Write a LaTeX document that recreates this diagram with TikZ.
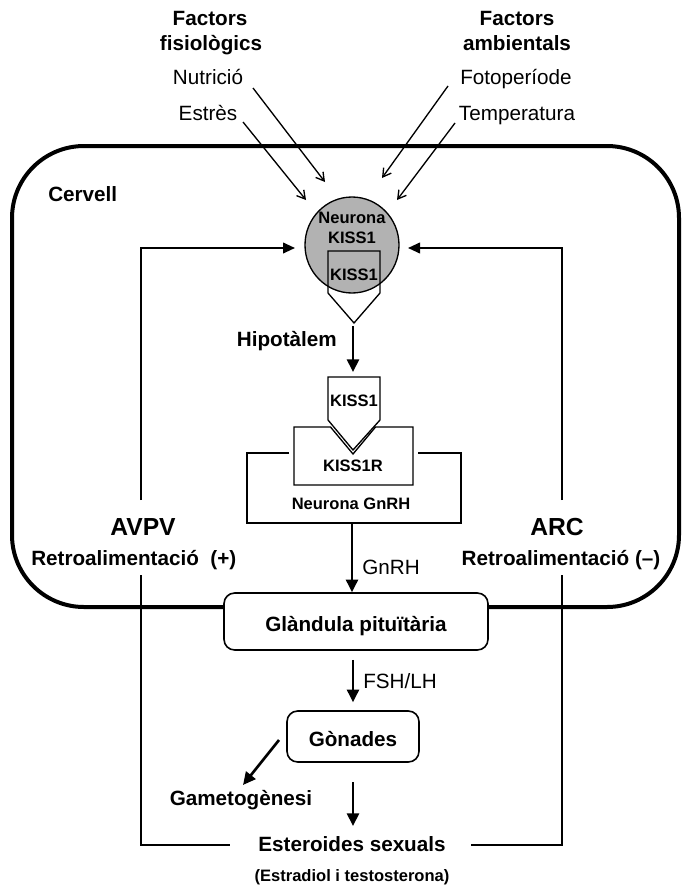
\documentclass[tikz,border=0pt]{standalone}
\usepackage{fontspec}
\setmainfont{Liberation Sans}
\usetikzlibrary{arrows.meta,shapes.geometric}
\begin{document}
\begin{tikzpicture}[x=0.75pt,y=-0.75pt,
  big/.style={font=\fontsize{15.5}{18}\selectfont\bfseries, inner sep=0pt, text height=11.1pt, text depth=0pt},
  reg/.style={font=\fontsize{15.5}{18}\selectfont, inner sep=0pt, text height=11.1pt, text depth=0pt},
  small/.style={font=\fontsize{12.4}{14}\selectfont\bfseries, inner sep=0pt, text height=8.9pt, text depth=0pt},
  huge/.style={font=\fontsize{18.5}{21}\selectfont\bfseries, inner sep=0pt, text height=13.2pt, text depth=0pt},
  thinarrow/.style={line width=1pt,-{Straight Barb[length=6pt,width=7pt]}},
  mainarrow/.style={line width=2pt,-{Triangle[length=9.5pt,width=9pt]}},
  fbarrow/.style={line width=1.4pt,-{Triangle[length=9pt,width=8pt]}},
  fbline/.style={line width=1.3pt},
  thinline/.style={line width=1pt},
  roundbox/.style={draw,line width=1.2pt,rounded corners=8pt,fill=white,inner sep=0pt},
]
\useasboundingbox (0,0) rectangle (684,885);

% brain outline
\draw[line width=3pt, rounded corners=54pt] (12,146) rectangle (679,607);
\node[big, anchor=west] (cervell) at (48,194) {Cervell};

% top factors
\node[big] (f1a) at (210,18) {Factors};
\node[big] (f1b) at (211,43) {fisiològics};
\node[reg] (nut) at (208,77) {Nutrició};
\node[reg] (est) at (208,113) {Estrès};
\node[big] (f2a) at (517,18) {Factors};
\node[big] (f2b) at (517,43) {ambientals};
\node[reg] (foto) at (516,77) {Fotoperíode};
\node[reg] (temp) at (517,113) {Temperatura};

\coordinate (nutS) at (253,88);
\coordinate (nutE) at (325,182);
\coordinate (estS) at (243,122);
\coordinate (estE) at (306,200);
\coordinate (fotoS) at (448,86);
\coordinate (fotoE) at (382,178);
\coordinate (tempS) at (455,123);
\coordinate (tempE) at (397,200);
\draw[thinarrow] (nutS) -- (nutE);
\draw[thinarrow] (estS) -- (estE);
\draw[thinarrow] (fotoS) -- (fotoE);
\draw[thinarrow] (tempS) -- (tempE);

% KISS1 neuron
\node[ellipse, draw, line width=1pt, fill=gray!60, minimum width=70.5pt, minimum height=72pt, inner sep=0pt] (neu) at (352,245) {};
\node[small] (neuA) at (352,218) {Neurona};
\node[small] (neuB) at (352,238) {KISS1};
\draw[thinline] (328,251) -- (380,251) -- (380,293) -- (354,323) -- (328,293) -- cycle;
\node[small] (kiss1a) at (354,275) {KISS1};
\coordinate (k1tip) at (353,326);

% hypothalamus arrow
\node[big, anchor=east] (hipo) at (337,339) {Hipotàlem};
\coordinate (k2top) at (353,372);
\draw[mainarrow] (k1tip) -- (k2top);

% KISS1 ligand + KISS1R + GnRH neuron
\draw[thinline] (328,377) -- (380,377) -- (380,420) -- (353,450) -- (328,420) -- cycle;
\node[small] (kiss1b) at (354,401) {KISS1};
\draw[thinline] (294,427) -- (330.5,427) -- (353,454) -- (375.5,427) -- (413,427) -- (413,485) -- (294,485) -- cycle;
\node[small] (kiss1r) at (353,466) {KISS1R};
\draw[thinline] (289,453) -- (247,453) -- (247,523) -- (461,523) -- (461,453) -- (418,453);
\node[small] (gnrhn) at (351,504) {Neurona GnRH};

% feedback loops
\coordinate (fbLtop) at (141,500);
\coordinate (fbRtop) at (562,500);
\coordinate (neuLin) at (295,248);
\coordinate (neuRin) at (408,248);
\draw[fbarrow] (fbLtop) |- (neuLin);
\draw[fbarrow] (fbRtop) |- (neuRin);
\node[huge] (avpv) at (143,527) {AVPV};
\node[huge] (arc) at (557,527) {ARC};
\node[big, anchor=west] (retroL) at (31,558) {Retroalimentació\ \ (+)};
\node[big] (retroR) at (561,558) {Retroalimentació (–)};
\coordinate (fbLbot) at (141,575);
\coordinate (fbRbot) at (562,575);
\coordinate (esL) at (230,845);
\coordinate (esR) at (471,845);
\draw[fbline] (fbLbot) |- (esL);
\draw[fbline] (fbRbot) |- (esR);

% GnRH arrow and pituitary
\coordinate (gnrhS) at (352,523);
\node[roundbox, minimum width=198pt, minimum height=42.75pt] (pit) at (356,621.5) {};
\node[big] (pitT) at (356,624) {Glàndula pituïtària};
\draw[mainarrow] (gnrhS) -- (pit.north -| gnrhS);
\node[reg, anchor=west] (gnrhL) at (362,567) {GnRH};

% FSH/LH and gonads
\node[roundbox, minimum width=99pt, minimum height=38.25pt] (gon) at (353,736.5) {};
\node[big] (gonT) at (353,739) {Gònades};
\draw[mainarrow] ([yshift=-6.75pt]pit.south -| gon.north) -- ([yshift=6pt]gon.north);
\node[reg, anchor=west] (fsh) at (363,681) {FSH/LH};

% outputs
\coordinate (gonDS) at (279,740);
\coordinate (gameE) at (243,785);
\draw[mainarrow] (gonDS) -- (gameE);
\node[big] (game) at (241,798) {Gametogènesi};
\coordinate (gonOut) at (353,782);
\coordinate (estIn) at (353,826);
\draw[mainarrow] (gonOut) -- (estIn);
\node[big] (ester) at (352,844) {Esteroides sexuals};
\node[small] (estr) at (352,876) {(Estradiol i testosterona)};
\end{tikzpicture}
\end{document}
